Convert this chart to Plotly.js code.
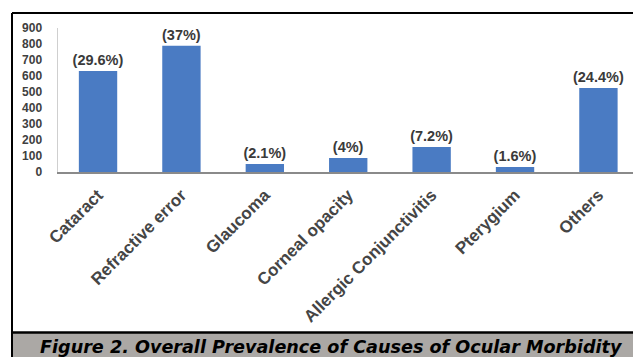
<!DOCTYPE html>
<html>
<head>
<meta charset="utf-8">
<script src="https://cdn.plot.ly/plotly-3.0.1.min.js"></script>
<style>
html,body{margin:0;padding:0;background:#fff;}
#chart{width:633px;height:357px;}
</style>
</head>
<body>
<div id="chart"></div>
<script>
const categories = ["Cataract", "Refractive error", "Glaucoma", "Corneal opacity", "Allergic Conjunctivitis", "Pterygium", "Others"];
const counts = [631, 789, 50, 87, 156, 31, 525];
const percentLabels = ["(29.6%)", "(37%)", "(2.1%)", "(4%)", "(7.2%)", "(1.6%)", "(24.4%)"];
const yTicks = [0, 100, 200, 300, 400, 500, 600, 700, 800, 900];
const captionText = "Figure 2. Overall Prevalence of Causes of Ocular Morbidity";

// pixel -> paper helpers (plot area: x 58..633, y 28..172)
const L = 58, T = 28, PW = 575, PH = 144;
const px = v => (v - L) / PW;
const py = v => (T + PH - v) / PH;

const trace = {
  type: "bar",
  x: categories,
  y: counts,
  text: percentLabels,
  textposition: "outside",
  constraintext: "none",
  textfont: {family: "Liberation Sans, Arial, sans-serif", size: 14.5, color: "#3a3a3a", weight: "bold"},
  cliponaxis: false,
  marker: {color: "#4a7bc3"},
  hoverinfo: "x+y"
};

const layout = {
  width: 633, height: 357,
  margin: {l: L, r: 0, t: T, b: 357 - T - PH, pad: 0},
  paper_bgcolor: "#ffffff",
  plot_bgcolor: "#ffffff",
  showlegend: false,
  bargap: 0.54,
  xaxis: {
    range: [-0.48, -0.48 + PW / 83.4],
    showgrid: false, zeroline: false,
    showline: true, linecolor: "#8a8a8a", linewidth: 1.5,
    tickangle: -45,
    ticks: "outside", ticklen: 5, tickcolor: "rgba(0,0,0,0)",
    tickfont: {family: "Liberation Sans, Arial, sans-serif", size: 17, color: "#454545", weight: "bold"}
  },
  yaxis: {
    range: [0, 900],
    tickvals: yTicks,
    ticktext: yTicks.map(String),
    showgrid: false, zeroline: false,
    showline: true, linecolor: "#cfcfcf", linewidth: 1.5,
    ticks: "outside", ticklen: 12, tickcolor: "rgba(0,0,0,0)",
    tickfont: {family: "Liberation Sans, Arial, sans-serif", size: 12, color: "#404040", weight: "bold"}
  },
  shapes: [
    {type: "rect", xref: "paper", yref: "paper", x0: px(12), x1: px(640), y0: py(360), y1: py(333), fillcolor: "#aba8a5", line: {width: 0}, layer: "below"},
    {type: "line", xref: "paper", yref: "paper", x0: px(12), x1: px(640), y0: py(13), y1: py(13), line: {color: "#000", width: 2}},
    {type: "line", xref: "paper", yref: "paper", x0: px(12), x1: px(12), y0: py(13), y1: py(360), line: {color: "#000", width: 2}},
    {type: "line", xref: "paper", yref: "paper", x0: px(12), x1: px(640), y0: py(332.5), y1: py(332.5), line: {color: "#000", width: 2.5}}
  ],
  annotations: [
    {xref: "paper", yref: "paper", x: px(331), y: py(346.5), xanchor: "center", yanchor: "middle",
     text: captionText, showarrow: false,
     font: {family: "DejaVu Sans, Verdana, sans-serif", size: 17.6, color: "#000", weight: "bold", style: "italic"}}
  ]
};

Plotly.newPlot("chart", [trace], layout, {displayModeBar: false, staticPlot: true});
</script>
</body>
</html>
